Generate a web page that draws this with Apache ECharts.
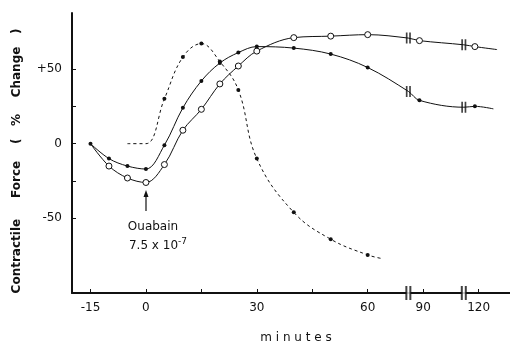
<!DOCTYPE html>
<html>
<head>
<meta charset="utf-8">
<script src="https://cdn.jsdelivr.net/npm/echarts@6/dist/echarts.min.js"></script>
<style>
html, body { margin: 0; padding: 0; background: #fff; }
#chart { width: 510px; height: 344px; }
</style>
</head>
<body>
<div id="chart"></div>
<script>
var openTimes   = [-15, -10, -5, 0, 5, 10, 15, 20, 25, 30, 40, 50, 60, 71, 89, 101, 119, 125];
var openValues  = [0, -15, -23, -26, -14, 9, 23, 40, 52, 62, 71, 72, 73, 70.7, 69, 66.2, 65, 63];
var openMarked  = [0, 1, 1, 1, 1, 1, 1, 1, 1, 1, 1, 1, 1, 0, 1, 0, 1, 0];

var dotTimes    = [-15, -10, -5, 0, 5, 10, 15, 20, 25, 30, 40, 50, 60, 71, 89, 101, 119, 124];
var dotValues   = [0, -10, -15, -17, -1, 24, 42, 54, 61, 65, 64, 60, 51, 35, 29, 24.4, 25, 23.3];
var dotMarked   = [1, 1, 1, 1, 1, 1, 1, 1, 1, 1, 1, 1, 1, 0, 1, 0, 1, 0];

var dashTimes   = [-5, 0, 5, 10, 15, 20, 25, 30, 40, 50, 60, 64];
var dashValues  = [0, 0, 30, 58, 67, 55, 36, -10, -46, -64, -74.5, -77];
var dashMarked  = [0, 0, 1, 1, 1, 1, 1, 1, 1, 1, 1, 0];

// axis breaks (real minutes collapsed to a point)
var axisBreaks = [[71, 86], [101, 116]];
var xTicks      = [-15, 0, 15, 30, 45, 60, 90, 120];
var xLabels     = [-15, 0, 30, 60, 90, 120];
var yTicks      = [-50, -25, 0, 25, 50];
var yLabels     = [-50, 0, 50];

function toAxis(t) {
    var u = t;
    for (var i = 0; i < axisBreaks.length; i++) {
        var b = axisBreaks[i];
        if (t > b[1]) u -= (b[1] - b[0]);
        else if (t > b[0]) u -= (t - b[0]);
    }
    return u;
}

function buildData(times, values, marked, size) {
    var out = [];
    for (var i = 0; i < times.length; i++) {
        out.push({
            value: [toAxis(times[i]), values[i]],
            symbolSize: marked[i] ? size : 0
        });
    }
    return out;
}

var labelMap = {};
for (var i = 0; i < xLabels.length; i++) labelMap[toAxis(xLabels[i])] = xLabels[i];

var breakPts = [];
var breakAxisPts = [];
for (var i = 0; i < axisBreaks.length; i++) {
    var u = toAxis(axisBreaks[i][0]);
    breakAxisPts.push([u, -100]);
    breakPts.push([u, openValues[openTimes.indexOf(axisBreaks[i][0])]]);
    breakPts.push([u, dotValues[dotTimes.indexOf(axisBreaks[i][0])]]);
}

var myChart = echarts.init(document.getElementById('chart'));
var font = 'DejaVu Sans';
var barsPath = 'path://M0,0H2V10H0Z M4,0H6V10H4Z';

var option = {
    animation: false,
    backgroundColor: '#fff',
    grid: { left: 72, right: 0, top: 13, bottom: 51 },
    xAxis: {
        type: 'value',
        min: -20,
        max: 98.5,
        splitLine: { show: false },
        axisLine: { onZero: false, lineStyle: { color: '#111', width: 2 } },
        axisTick: {
            inside: true, length: 4,
            customValues: xTicks.map(toAxis),
            lineStyle: { color: '#111', width: 1 }
        },
        axisLabel: {
            customValues: xLabels.map(toAxis),
            color: '#111', fontFamily: font, fontSize: 12, margin: 9,
            formatter: function (v) { return labelMap[v] !== undefined ? String(labelMap[v]) : ''; }
        }
    },
    yAxis: {
        type: 'value',
        min: -100,
        max: 87.5,
        splitLine: { show: false },
        axisLine: { onZero: false, lineStyle: { color: '#111', width: 2 } },
        axisTick: {
            inside: true, length: 4,
            customValues: yTicks,
            lineStyle: { color: '#111', width: 1 }
        },
        axisLabel: {
            customValues: yLabels,
            color: '#111', fontFamily: font, fontSize: 12, margin: 10,
            formatter: function (v) { return v > 0 ? '+' + v : String(v); }
        }
    },
    series: [
        {
            name: 'open',
            type: 'line',
            smooth: 0.35,
            symbol: 'circle',
            data: buildData(openTimes, openValues, openMarked, 6),
            lineStyle: { color: '#111', width: 1 },
            itemStyle: { color: '#fff', borderColor: '#111', borderWidth: 1 }
        },
        {
            name: 'filled',
            type: 'line',
            smooth: 0.35,
            symbol: 'circle',
            data: buildData(dotTimes, dotValues, dotMarked, 4),
            lineStyle: { color: '#111', width: 1 },
            itemStyle: { color: '#111' }
        },
        {
            name: 'dashed',
            type: 'line',
            smooth: 0.4,
            symbol: 'circle',
            data: buildData(dashTimes, dashValues, dashMarked, 4),
            lineStyle: { color: '#111', width: 1, type: [3, 3] },
            itemStyle: { color: '#111' }
        },
        {
            type: 'scatter',
            clip: false,
            symbol: 'rect',
            symbolSize: [4, 18],
            data: breakAxisPts,
            itemStyle: { color: '#fff' },
            z: 5
        },
        {
            type: 'scatter',
            clip: false,
            symbol: barsPath,
            symbolSize: [6, 14],
            data: breakAxisPts,
            itemStyle: { color: '#111' },
            z: 6
        },
        {
            type: 'scatter',
            clip: false,
            symbol: barsPath,
            symbolSize: [5, 11],
            data: breakPts,
            itemStyle: { color: '#111' },
            z: 6
        }
    ],
    graphic: [
        {
            type: 'text', x: 17, y: 161, rotation: Math.PI / 2,
            style: {
                text: 'Contractile     Force    (   %    Change   )',
                font: 'bold 12px "DejaVu Sans"', fill: '#111',
                align: 'center', verticalAlign: 'middle'
            }
        },
        {
            type: 'text', x: 296, y: 338,
            style: {
                text: 'm i n u t e s',
                font: '12px "DejaVu Sans"', fill: '#111',
                align: 'center', verticalAlign: 'middle'
            }
        },
        {
            type: 'line',
            shape: { x1: 146, y1: 211, x2: 146, y2: 195 },
            style: { stroke: '#111', lineWidth: 1.2 }
        },
        {
            type: 'polygon',
            shape: { points: [[146, 190], [143.5, 197], [148.5, 197]] },
            style: { fill: '#111' }
        },
        {
            type: 'text', x: 153, y: 227,
            style: {
                text: 'Ouabain',
                font: '12px "DejaVu Sans"', fill: '#111',
                align: 'center', verticalAlign: 'middle'
            }
        },
        {
            type: 'text', x: 158, y: 246,
            style: {
                text: '7.5 x 10{sup|-7}',
                font: '12px "DejaVu Sans"', fill: '#111',
                align: 'center', verticalAlign: 'middle',
                rich: { sup: { fontSize: 9, fontFamily: font, verticalAlign: 'top', padding: [0, 0, 8, 0] } }
            }
        }
    ]
};

myChart.setOption(option);
</script>
</body>
</html>
